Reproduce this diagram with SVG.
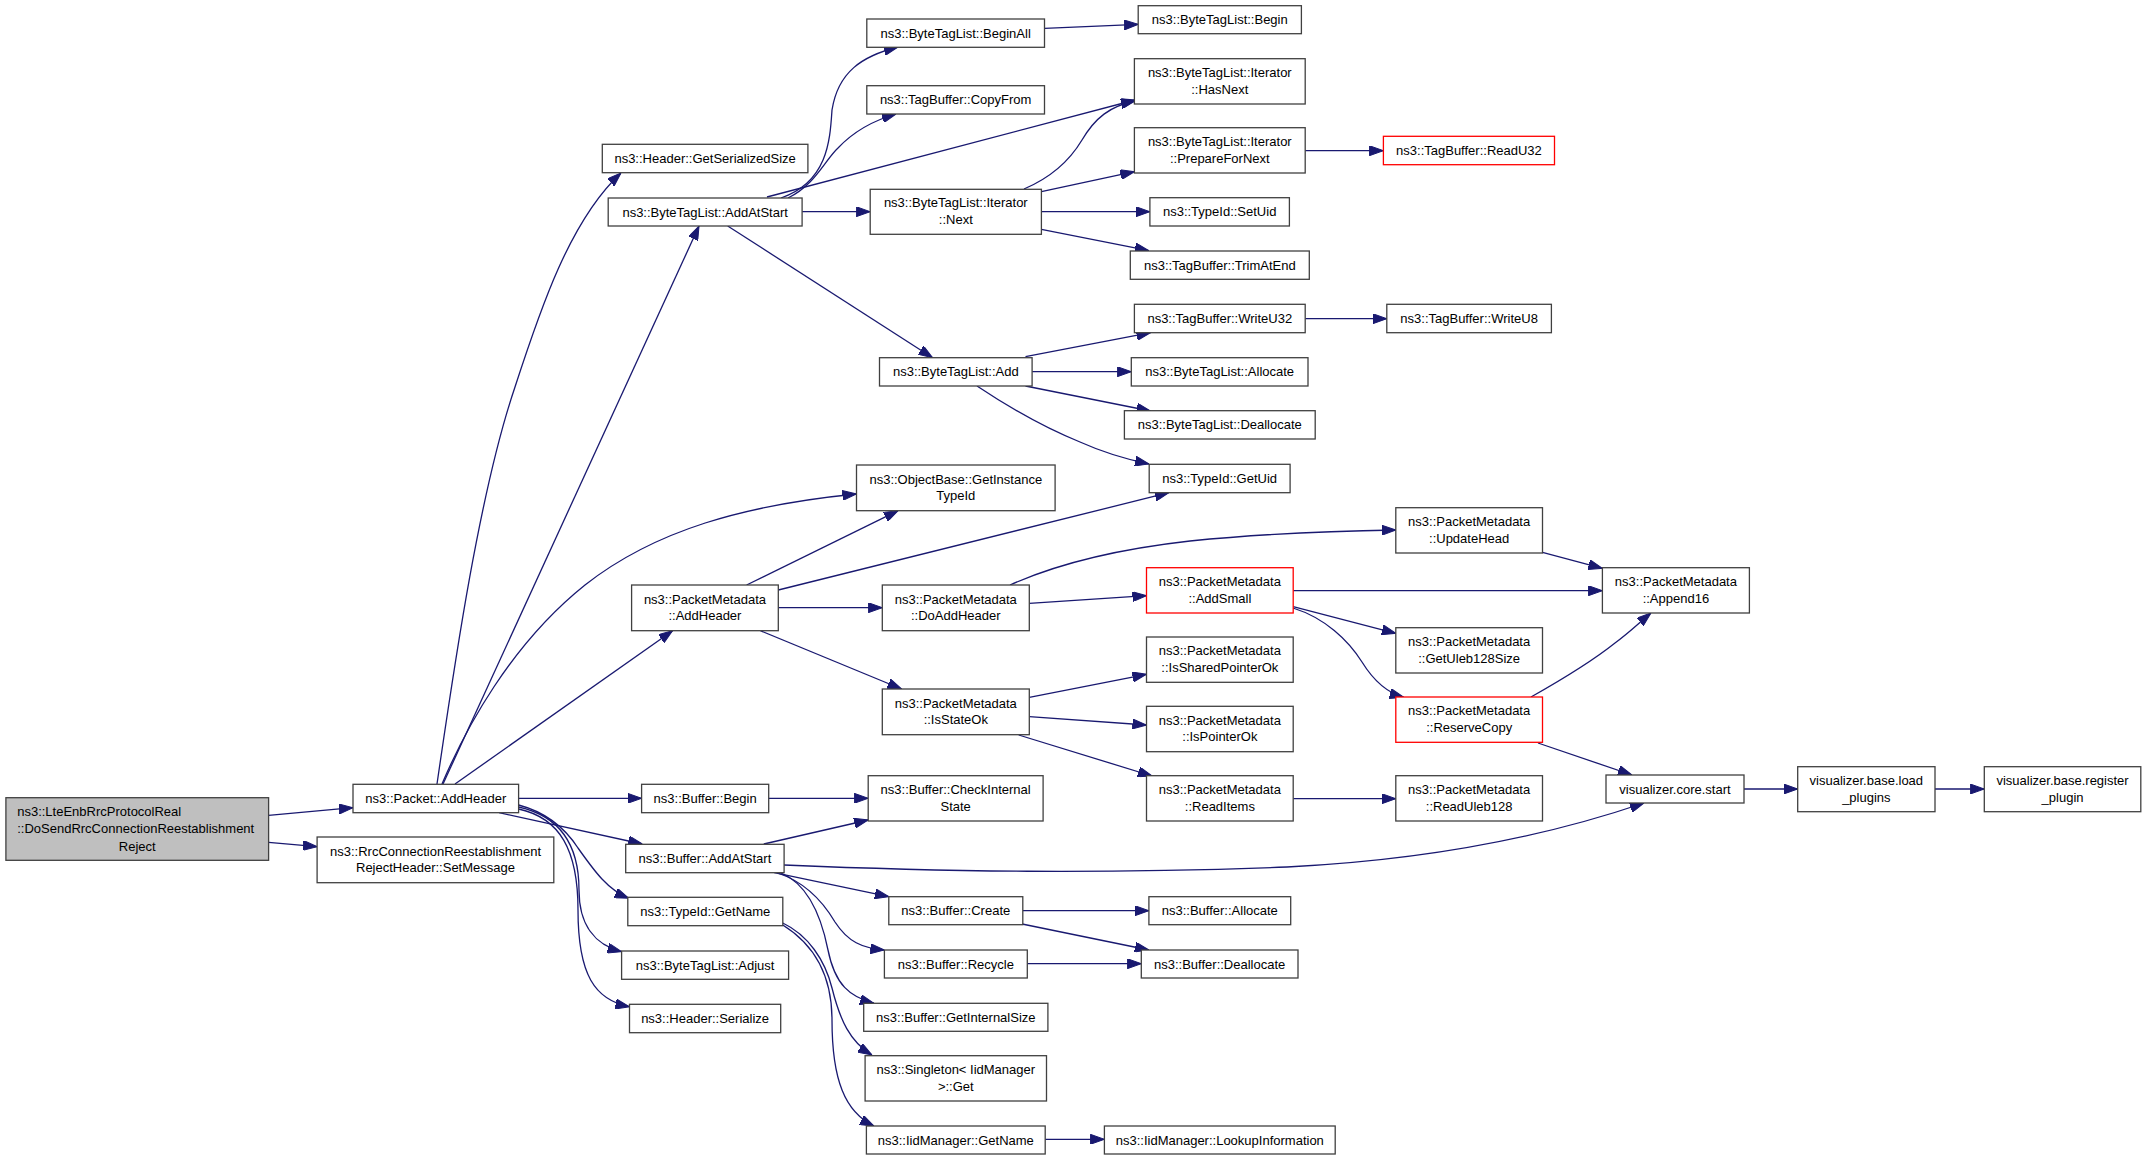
<svg xmlns="http://www.w3.org/2000/svg" width="2147" height="1160" viewBox="0 0 2147 1160">
<defs>
<marker id="ah" viewBox="0 0 14 10" refX="14" refY="5" markerWidth="14" markerHeight="10" markerUnits="userSpaceOnUse" orient="auto">
<path d="M0,0 L14,5 L0,10 z" fill="#191970" stroke="#191970" stroke-width="1"/>
</marker>
</defs>
<style>
.n rect{fill:#ffffff;stroke:#404040;stroke-width:1.3}
.n.r rect{stroke:#ff0000}
.n.root rect{fill:#bfbfbf}
.n text{font-family:"Liberation Sans",Arial,Helvetica,sans-serif;font-size:13px;fill:#000000;text-anchor:middle}
#edges path{fill:none;stroke:#191970;stroke-width:1.3;marker-end:url(#ah)}
</style>
<rect width="2147" height="1160" fill="#ffffff"/>
<g id="edges">
<path d="M268.6,815.3 L353,807.7"/>
<path d="M268.6,842.3 L317.1,846.7"/>
<path d="M437,784 C455,660 480,490 515,387 C540,310 570,220 621,173"/>
<path d="M443,784 L699,226"/>
<path d="M442,784 C465,730 510,645 585,585 C655,530 745,505 856.5,494"/>
<path d="M455,784 L672.6,630.7"/>
<path d="M518.6,798.3 L641.6,798.3"/>
<path d="M499,812.7 L642.3,844"/>
<path d="M518.6,805 C545,812 565,828 578,848 C595,872 608,890 628.8,898.3"/>
<path d="M518.6,807 C555,815 579,840 579,890 C579,925 595,945 621.6,951.7"/>
<path d="M518.6,809 C560,818 578,850 578,910 C578,975 595,1000 629.5,1006.7"/>
<path d="M781,198 C828,182 830,140 832,110 C838,72 862,56 898,47"/>
<path d="M788,198 C815,185 825,160 838,148 C855,130 875,120 896,114"/>
<path d="M767,197 L1135,100"/>
<path d="M802.1,211.7 L870.2,211.7"/>
<path d="M727.7,226 L932.6,357.7"/>
<path d="M1044.5,28.3 L1138.2,24.3"/>
<path d="M1024,189 C1050,178 1070,160 1082,140 C1095,118 1110,106 1135,101"/>
<path d="M1041.4,191.7 L1134.4,171.7"/>
<path d="M1041.4,211.7 L1149.9,211.7"/>
<path d="M1041.4,229.3 L1148.9,250.7"/>
<path d="M1305.2,150.7 L1383.4,150.7"/>
<path d="M1025.5,356.7 L1150.6,332.7"/>
<path d="M1305.2,318.7 L1386.8,318.7"/>
<path d="M1032.1,371.7 L1131.3,371.7"/>
<path d="M1025.5,386 L1150.6,411"/>
<path d="M977,386 C1010,408 1050,430 1080,442 C1100,451 1125,459 1149,464"/>
<path d="M746.6,585 L898.1,510.7"/>
<path d="M778.3,590 L1168.8,492.7"/>
<path d="M778.3,607.7 L882.3,607.7"/>
<path d="M760.4,630.7 L901.6,689"/>
<path d="M1010,585 C1050,567 1110,550 1190,541 C1260,534 1330,531 1395.8,530"/>
<path d="M1029.3,603.3 L1146.5,595.7"/>
<path d="M1293.2,590.7 L1602.4,590.7"/>
<path d="M1293.2,606.7 L1395.8,633.3"/>
<path d="M1293,608 C1325,618 1348,640 1362,662 C1375,683 1388,693 1403.7,697.3"/>
<path d="M1542.5,552.3 L1602.4,568.3"/>
<path d="M1531,697 C1570,675 1600,655 1615,643 C1630,632 1640,622 1651,613"/>
<path d="M1538,743 L1632,775"/>
<path d="M1029.3,697.3 L1146.5,674.3"/>
<path d="M1029.3,716.7 L1146.5,725"/>
<path d="M1018.7,735 L1152,776"/>
<path d="M1293.2,798.7 L1395.8,798.7"/>
<path d="M768.7,798.3 L868.2,798.3"/>
<path d="M763.8,844 L868.2,820"/>
<path d="M784,865 C950,872 1100,874 1287,867 C1430,860 1550,835 1644,803"/>
<path d="M774.2,872.7 L888.8,896.7"/>
<path d="M777.6,873 C805,882 822,900 835,922 C848,942 862,948 884.4,950"/>
<path d="M781,873 C810,885 822,920 828,950 C835,985 850,997 874,1003.3"/>
<path d="M1022.8,910.7 L1148.9,910.7"/>
<path d="M1022.1,924 L1148.9,950"/>
<path d="M1027.3,963.7 L1141.3,963.7"/>
<path d="M782.8,923 C808,935 825,960 832,988 C840,1020 850,1042 872,1055"/>
<path d="M782.8,925 C815,945 832,975 832,1020 C832,1080 845,1112 874,1126"/>
<path d="M1045.2,1139.3 L1104.4,1139.3"/>
<path d="M1743.9,789 L1797.7,789"/>
<path d="M1935,789 L1984.3,789"/>
</g>
<g id="n_root" class="n root"><rect x="5.9" y="797.7" width="262.7" height="62.6"/><text><tspan x="17.2" y="815.5" style="text-anchor:start">ns3::LteEnbRrcProtocolReal</tspan><tspan x="17.2" y="833" style="text-anchor:start">::DoSendRrcConnectionReestablishment</tspan><tspan x="137.2" y="850.5">Reject</tspan></text></g>
<g id="n_pkt" class="n"><rect x="353" y="784.3" width="165.6" height="28.4"/><text x="435.8" y="803">ns3::Packet::AddHeader</text></g>
<g id="n_setmsg" class="n"><rect x="317.1" y="837" width="236.7" height="45.7"/><text><tspan x="435.5" y="855.5">ns3::RrcConnectionReestablishment</tspan><tspan x="435.5" y="872.2">RejectHeader::SetMessage</tspan></text></g>
<g id="n_gss" class="n"><rect x="602.3" y="144.3" width="205.6" height="28.4"/><text x="705.1" y="163">ns3::Header::GetSerializedSize</text></g>
<g id="n_btl_aas" class="n"><rect x="608.2" y="198" width="193.9" height="28"/><text x="705.15" y="216.5">ns3::ByteTagList::AddAtStart</text></g>
<g id="n_beginall" class="n"><rect x="866.8" y="19" width="177.7" height="28.3"/><text x="955.65" y="37.65">ns3::ByteTagList::BeginAll</text></g>
<g id="n_copyfrom" class="n"><rect x="866.8" y="85.7" width="177.7" height="28.3"/><text x="955.65" y="104.35">ns3::TagBuffer::CopyFrom</text></g>
<g id="n_next" class="n"><rect x="870.2" y="189.3" width="171.2" height="45"/><text><tspan x="955.8" y="207.45">ns3::ByteTagList::Iterator</tspan><tspan x="955.8" y="224.15">::Next</tspan></text></g>
<g id="n_add" class="n"><rect x="879.5" y="357.7" width="152.6" height="28.3"/><text x="955.8" y="376.35">ns3::ByteTagList::Add</text></g>
<g id="n_begin" class="n"><rect x="1138.2" y="5.7" width="163.2" height="28"/><text x="1219.8" y="24.2">ns3::ByteTagList::Begin</text></g>
<g id="n_hasnext" class="n"><rect x="1134.4" y="58.7" width="170.8" height="45.3"/><text><tspan x="1219.8" y="77">ns3::ByteTagList::Iterator</tspan><tspan x="1219.8" y="93.7">::HasNext</tspan></text></g>
<g id="n_prep" class="n"><rect x="1134.4" y="127.7" width="170.8" height="45.3"/><text><tspan x="1219.8" y="146">ns3::ByteTagList::Iterator</tspan><tspan x="1219.8" y="162.7">::PrepareForNext</tspan></text></g>
<g id="n_readu32" class="n r"><rect x="1383.4" y="136.3" width="171.1" height="28.4"/><text x="1468.95" y="155">ns3::TagBuffer::ReadU32</text></g>
<g id="n_setuid" class="n"><rect x="1149.9" y="197.7" width="139.5" height="28.3"/><text x="1219.65" y="216.35">ns3::TypeId::SetUid</text></g>
<g id="n_trim" class="n"><rect x="1130.3" y="251" width="179" height="28.3"/><text x="1219.8" y="269.65">ns3::TagBuffer::TrimAtEnd</text></g>
<g id="n_wu32" class="n"><rect x="1134.4" y="304.3" width="170.8" height="28.4"/><text x="1219.8" y="323">ns3::TagBuffer::WriteU32</text></g>
<g id="n_wu8" class="n"><rect x="1386.8" y="304.3" width="164.6" height="28.4"/><text x="1469.1" y="323">ns3::TagBuffer::WriteU8</text></g>
<g id="n_alloc" class="n"><rect x="1131.3" y="357.7" width="176.7" height="28.3"/><text x="1219.65" y="376.35">ns3::ByteTagList::Allocate</text></g>
<g id="n_dealloc" class="n"><rect x="1124.4" y="410.7" width="190.8" height="28.3"/><text x="1219.8" y="429.35">ns3::ByteTagList::Deallocate</text></g>
<g id="n_getuid" class="n"><rect x="1149.2" y="464.3" width="140.9" height="28.4"/><text x="1219.65" y="483">ns3::TypeId::GetUid</text></g>
<g id="n_git" class="n"><rect x="856.5" y="465" width="198.6" height="45.7"/><text><tspan x="955.8" y="483.5">ns3::ObjectBase::GetInstance</tspan><tspan x="955.8" y="500.2">TypeId</tspan></text></g>
<g id="n_pm_ah" class="n"><rect x="631.6" y="585" width="146.7" height="45.7"/><text><tspan x="704.95" y="603.5">ns3::PacketMetadata</tspan><tspan x="704.95" y="620.2">::AddHeader</tspan></text></g>
<g id="n_doadd" class="n"><rect x="882.3" y="585" width="147" height="45.7"/><text><tspan x="955.8" y="603.5">ns3::PacketMetadata</tspan><tspan x="955.8" y="620.2">::DoAddHeader</tspan></text></g>
<g id="n_isstate" class="n"><rect x="882.3" y="689" width="147" height="45.7"/><text><tspan x="955.8" y="707.5">ns3::PacketMetadata</tspan><tspan x="955.8" y="724.2">::IsStateOk</tspan></text></g>
<g id="n_upd" class="n"><rect x="1395.8" y="507.7" width="146.7" height="45.3"/><text><tspan x="1469.15" y="526">ns3::PacketMetadata</tspan><tspan x="1469.15" y="542.7">::UpdateHead</tspan></text></g>
<g id="n_addsmall" class="n r"><rect x="1146.5" y="567.7" width="146.7" height="45.3"/><text><tspan x="1219.85" y="586">ns3::PacketMetadata</tspan><tspan x="1219.85" y="602.7">::AddSmall</tspan></text></g>
<g id="n_app16" class="n"><rect x="1602.4" y="567.7" width="147" height="45.3"/><text><tspan x="1675.9" y="586">ns3::PacketMetadata</tspan><tspan x="1675.9" y="602.7">::Append16</tspan></text></g>
<g id="n_uleb" class="n"><rect x="1395.8" y="627.7" width="146.7" height="45.3"/><text><tspan x="1469.15" y="646">ns3::PacketMetadata</tspan><tspan x="1469.15" y="662.7">::GetUleb128Size</tspan></text></g>
<g id="n_shared" class="n"><rect x="1146.5" y="637" width="146.7" height="45.3"/><text><tspan x="1219.85" y="655.3">ns3::PacketMetadata</tspan><tspan x="1219.85" y="672">::IsSharedPointerOk</tspan></text></g>
<g id="n_reserve" class="n r"><rect x="1395.8" y="697" width="146.7" height="45.3"/><text><tspan x="1469.15" y="715.3">ns3::PacketMetadata</tspan><tspan x="1469.15" y="732">::ReserveCopy</tspan></text></g>
<g id="n_ptr" class="n"><rect x="1146.5" y="706.3" width="146.7" height="45.4"/><text><tspan x="1219.85" y="724.65">ns3::PacketMetadata</tspan><tspan x="1219.85" y="741.35">::IsPointerOk</tspan></text></g>
<g id="n_readitems" class="n"><rect x="1146.5" y="775.7" width="146.7" height="45.3"/><text><tspan x="1219.85" y="794">ns3::PacketMetadata</tspan><tspan x="1219.85" y="810.7">::ReadItems</tspan></text></g>
<g id="n_readuleb" class="n"><rect x="1395.8" y="775.7" width="146.7" height="45.3"/><text><tspan x="1469.15" y="794">ns3::PacketMetadata</tspan><tspan x="1469.15" y="810.7">::ReadUleb128</tspan></text></g>
<g id="n_vcore" class="n"><rect x="1606" y="775" width="138" height="28"/><text x="1675" y="793.5">visualizer.core.start</text></g>
<g id="n_load" class="n"><rect x="1797.7" y="766.7" width="137.3" height="45"/><text><tspan x="1866.35" y="784.85">visualizer.base.load</tspan><tspan x="1866.35" y="801.55">_plugins</tspan></text></g>
<g id="n_reg" class="n"><rect x="1984.3" y="766.7" width="156.5" height="45"/><text><tspan x="2062.55" y="784.85">visualizer.base.register</tspan><tspan x="2062.55" y="801.55">_plugin</tspan></text></g>
<g id="n_bbegin" class="n"><rect x="641.6" y="784.3" width="127.1" height="28.4"/><text x="705.15" y="803">ns3::Buffer::Begin</text></g>
<g id="n_check" class="n"><rect x="868.2" y="775.7" width="174.9" height="45.3"/><text><tspan x="955.65" y="794">ns3::Buffer::CheckInternal</tspan><tspan x="955.65" y="810.7">State</tspan></text></g>
<g id="n_baas" class="n"><rect x="625.7" y="844.3" width="158.4" height="28.4"/><text x="704.9" y="863">ns3::Buffer::AddAtStart</text></g>
<g id="n_getname" class="n"><rect x="627.8" y="897.3" width="155" height="28.4"/><text x="705.3" y="916">ns3::TypeId::GetName</text></g>
<g id="n_create" class="n"><rect x="888.8" y="896.7" width="134" height="28"/><text x="955.8" y="915.2">ns3::Buffer::Create</text></g>
<g id="n_adjust" class="n"><rect x="621.6" y="951" width="167" height="28.3"/><text x="705.1" y="969.65">ns3::ByteTagList::Adjust</text></g>
<g id="n_recycle" class="n"><rect x="884.4" y="950" width="142.9" height="28"/><text x="955.85" y="968.5">ns3::Buffer::Recycle</text></g>
<g id="n_serialize" class="n"><rect x="629.5" y="1004.3" width="151.2" height="28.4"/><text x="705.1" y="1023">ns3::Header::Serialize</text></g>
<g id="n_gis" class="n"><rect x="863.7" y="1003.3" width="184.2" height="28"/><text x="955.8" y="1021.8">ns3::Buffer::GetInternalSize</text></g>
<g id="n_single" class="n"><rect x="865.1" y="1055.7" width="181.4" height="45.3"/><text><tspan x="955.8" y="1074">ns3::Singleton&lt; IidManager</tspan><tspan x="955.8" y="1090.7">&gt;::Get</tspan></text></g>
<g id="n_iidname" class="n"><rect x="866.4" y="1126" width="178.8" height="28"/><text x="955.8" y="1144.5">ns3::IidManager::GetName</text></g>
<g id="n_balloc" class="n"><rect x="1148.9" y="896.7" width="141.8" height="28"/><text x="1219.8" y="915.2">ns3::Buffer::Allocate</text></g>
<g id="n_bdealloc" class="n"><rect x="1141.3" y="950" width="156.7" height="28"/><text x="1219.65" y="968.5">ns3::Buffer::Deallocate</text></g>
<g id="n_lookup" class="n"><rect x="1104.4" y="1126" width="230.8" height="28"/><text x="1219.8" y="1144.5">ns3::IidManager::LookupInformation</text></g>
</svg>
